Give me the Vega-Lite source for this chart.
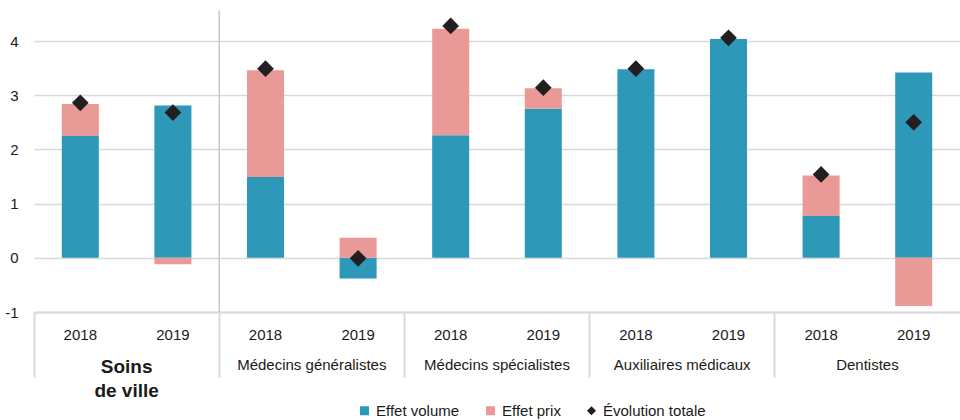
{
  "$schema": "https://vega.github.io/schema/vega-lite/v6.json",
  "width": 926,
  "height": 298,
  "autosize": {"type": "none"},
  "padding": {"left": 34, "top": 14, "right": 0, "bottom": 108},
  "config": {
    "font": "Liberation Sans, Arial, sans-serif",
    "view": {"stroke": null},
    "axisY": {"grid": true, "gridColor": "#d9d9d9", "gridWidth": 1.5, "domain": false, "ticks": false, "labelPadding": 16, "labelFontSize": 15, "labelColor": "#1a1a1a", "title": null},
    "legend": {"orient": "none", "legendX": 323, "legendY": 389, "direction": "horizontal", "title": null, "labelFontSize": 15, "labelColor": "#1a1a1a", "symbolSize": 81, "symbolStrokeWidth": 0, "columnPadding": 23, "labelOffset": 4}
  },
  "datasets": {
    "effets": [
      {"groupe": "Soins de ville|2018", "serie": "Effet volume", "valeur": 2.25},
      {"groupe": "Soins de ville|2018", "serie": "Effet prix", "valeur": 0.59},
      {"groupe": "Soins de ville|2019", "serie": "Effet volume", "valeur": 2.81},
      {"groupe": "Soins de ville|2019", "serie": "Effet prix", "valeur": -0.12},
      {"groupe": "Médecins généralistes|2018", "serie": "Effet volume", "valeur": 1.49},
      {"groupe": "Médecins généralistes|2018", "serie": "Effet prix", "valeur": 1.97},
      {"groupe": "Médecins généralistes|2019", "serie": "Effet volume", "valeur": -0.38},
      {"groupe": "Médecins généralistes|2019", "serie": "Effet prix", "valeur": 0.37},
      {"groupe": "Médecins spécialistes|2018", "serie": "Effet volume", "valeur": 2.26},
      {"groupe": "Médecins spécialistes|2018", "serie": "Effet prix", "valeur": 1.97},
      {"groupe": "Médecins spécialistes|2019", "serie": "Effet volume", "valeur": 2.75},
      {"groupe": "Médecins spécialistes|2019", "serie": "Effet prix", "valeur": 0.38},
      {"groupe": "Auxiliaires médicaux|2018", "serie": "Effet volume", "valeur": 3.48},
      {"groupe": "Auxiliaires médicaux|2018", "serie": "Effet prix", "valeur": 0.0},
      {"groupe": "Auxiliaires médicaux|2019", "serie": "Effet volume", "valeur": 4.04},
      {"groupe": "Auxiliaires médicaux|2019", "serie": "Effet prix", "valeur": 0.0},
      {"groupe": "Dentistes|2018", "serie": "Effet volume", "valeur": 0.77},
      {"groupe": "Dentistes|2018", "serie": "Effet prix", "valeur": 0.75},
      {"groupe": "Dentistes|2019", "serie": "Effet volume", "valeur": 3.42},
      {"groupe": "Dentistes|2019", "serie": "Effet prix", "valeur": -0.89}
    ],
    "totaux": [
      {"groupe": "Soins de ville|2018", "serie": "Évolution totale", "valeur": 2.86},
      {"groupe": "Soins de ville|2019", "serie": "Évolution totale", "valeur": 2.68},
      {"groupe": "Médecins généralistes|2018", "serie": "Évolution totale", "valeur": 3.49},
      {"groupe": "Médecins généralistes|2019", "serie": "Évolution totale", "valeur": -0.01},
      {"groupe": "Médecins spécialistes|2018", "serie": "Évolution totale", "valeur": 4.28},
      {"groupe": "Médecins spécialistes|2019", "serie": "Évolution totale", "valeur": 3.14},
      {"groupe": "Auxiliaires médicaux|2018", "serie": "Évolution totale", "valeur": 3.49},
      {"groupe": "Auxiliaires médicaux|2019", "serie": "Évolution totale", "valeur": 4.06},
      {"groupe": "Dentistes|2018", "serie": "Évolution totale", "valeur": 1.54},
      {"groupe": "Dentistes|2019", "serie": "Évolution totale", "valeur": 2.50}
    ]
  },
  "layer": [
    {
      "data": {"values": [{"categorie": "Médecins généralistes"}]},
      "mark": {"type": "rule", "color": "#c8c8c8", "strokeWidth": 1.5},
      "encoding": {
        "x": {
          "field": "categorie", "type": "nominal", "bandPosition": 0,
          "scale": {"type": "band", "domain": ["Soins de ville", "Médecins généralistes", "Médecins spécialistes", "Auxiliaires médicaux", "Dentistes"], "paddingInner": 0, "paddingOuter": 0},
          "axis": {
            "title": null, "orient": "bottom", "domain": false, "ticks": true, "bandPosition": 0,
            "tickSize": 65, "tickColor": "#d9d9d9", "tickWidth": 2, "labelPadding": -20, "labelAngle": 0,
            "labelOverlap": false, "labelBound": false, "labelFlush": false, "labelColor": "#1a1a1a",
            "labelLineHeight": 24,
            "labelExpr": "datum.value == 'Soins de ville' ? ['Soins', 'de ville'] : datum.value",
            "labelFontSize": {"condition": {"test": "datum.value == 'Soins de ville'", "value": 19}, "value": 15},
            "labelFontWeight": {"condition": {"test": "datum.value == 'Soins de ville'", "value": "bold"}, "value": "normal"}
          }
        },
        "y": {"datum": 4.57, "type": "quantitative"},
        "y2": {"datum": -1}
      }
    },
    {
      "data": {"name": "effets"},
      "mark": {"type": "bar"},
      "encoding": {
        "x": {
          "field": "groupe", "type": "nominal", "sort": null,
          "scale": {"type": "band", "paddingInner": 0.6, "paddingOuter": 0.3},
          "axis": {"title": null, "orient": "bottom", "labelExpr": "slice(datum.value, -4)", "labelAngle": 0, "ticks": false, "domain": true, "domainColor": "#d9d9d9", "domainWidth": 2, "labelPadding": 15, "labelFontSize": 15, "labelColor": "#1a1a1a", "grid": false}
        },
        "y": {
          "field": "valeur", "type": "quantitative", "stack": "zero",
          "scale": {"domain": [-1, 4.5], "nice": false},
          "axis": {"values": [-1, 0, 1, 2, 3, 4], "labelExpr": "toString(datum.value)"}
        },
        "color": {
          "field": "serie", "type": "nominal",
          "scale": {"domain": ["Effet volume", "Effet prix", "Évolution totale"], "range": ["#2e98b8", "#ea9a96", "#231f20"]}
        },
        "order": {"field": "serie", "sort": "descending"}
      }
    },
    {
      "data": {"name": "totaux"},
      "mark": {"type": "point", "filled": true, "opacity": 1, "size": 280},
      "encoding": {
        "x": {
          "field": "groupe", "type": "nominal", "sort": null,
          "scale": {"type": "band", "paddingInner": 0.6, "paddingOuter": 0.3},
          "axis": null
        },
        "y": {"field": "valeur", "type": "quantitative"},
        "color": {"field": "serie", "type": "nominal"},
        "shape": {
          "field": "serie", "type": "nominal",
          "scale": {"domain": ["Effet volume", "Effet prix", "Évolution totale"], "range": ["square", "square", "diamond"]}
        }
      }
    }
  ],
  "resolve": {"scale": {"x": "independent"}, "axis": {"x": "independent"}}
}
